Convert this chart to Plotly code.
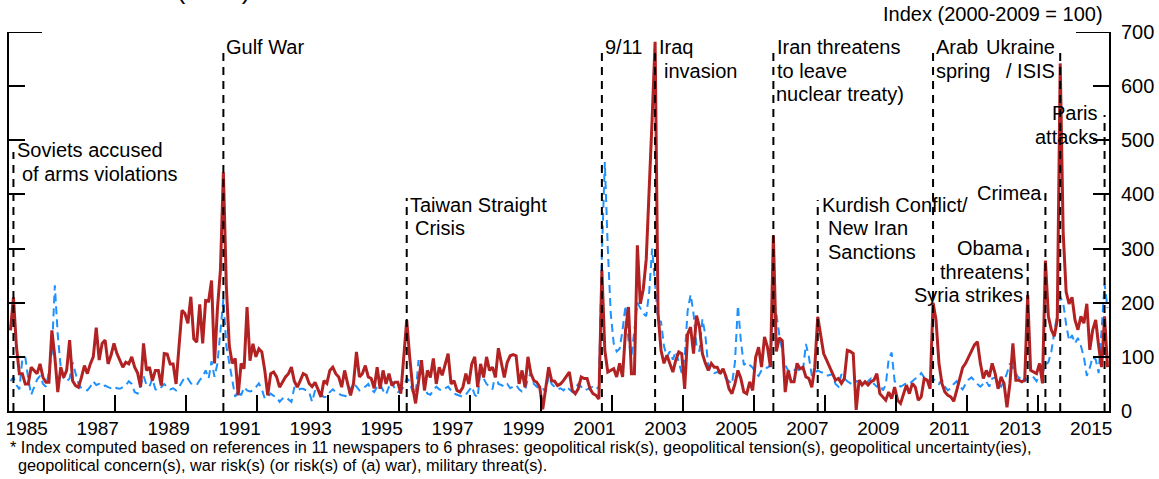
import plotly.graph_objects as go

FONT = "Liberation Sans, Arial, sans-serif"

# Monthly index values, January 1985 - December 2015
first_year = 1985
gpr_main = [
    149, 210, 120, 69, 69, 50, 50, 81, 75, 69, 87, 62,
    53, 53, 149, 100, 35, 81, 62, 75, 131, 56, 47, 44,
    62, 84, 69, 87, 100, 154, 94, 125, 131, 87, 103, 125,
    106, 94, 81, 90, 87, 100, 81, 70, 44, 125, 75, 81,
    56, 75, 75, 47, 106, 105, 87, 87, 50, 120, 186, 180,
    162, 211, 133, 127, 197, 125, 204, 203, 241, 88, 190, 260,
    441, 230, 120, 88, 97, 29, 88, 78, 192, 93, 124, 100,
    115, 109, 75, 29, 69, 72, 63, 44, 53, 63, 69, 81,
    55, 44, 56, 69, 66, 51, 45, 53, 40, 26, 56, 51,
    75, 81, 69, 63, 44, 75, 51, 29, 51, 109, 63, 69,
    84, 63, 60, 42, 81, 41, 75, 50, 69, 47, 53, 53,
    32, 100, 168, 100, 44, 14, 56, 94, 38, 75, 62, 97,
    50, 81, 66, 87, 106, 50, 56, 38, 35, 44, 69, 50,
    87, 100, 44, 87, 62, 100, 75, 81, 62, 116, 87, 62,
    90, 102, 104, 102, 50, 75, 44, 100, 69, 56, 53, 44,
    3, 38, 81, 56, 55, 47, 50, 56, 64, 72, 38, 32,
    41, 63, 60, 60, 41, 32, 29, 22, 260, 112, 72, 75,
    78, 63, 88, 63, 149, 192, 69, 69, 306, 198, 225, 280,
    400, 540, 682, 180, 112, 88, 103, 88, 72, 94, 109, 106,
    41, 142, 155, 106, 176, 155, 106, 88, 75, 88, 81, 81,
    69, 78, 63, 41, 32, 50, 75, 60, 35, 32, 54, 38,
    99, 118, 81, 137, 118, 81, 324, 110, 135, 130, 35, 75,
    54, 54, 88, 78, 81, 63, 60, 44, 81, 174, 143, 106,
    94, 81, 69, 57, 60, 51, 60, 112, 110, 106, 2, 57,
    48, 54, 48, 54, 57, 69, 32, 26, 20, 35, 23, 44,
    20, 14, 32, 48, 32, 51, 44, 20, 26, 60, 57, 41,
    200, 168, 88, 51, 35, 29, 26, 18, 38, 57, 80, 88,
    100, 113, 122, 128, 88, 60, 75, 63, 88, 69, 41, 63,
    51, 7, 51, 125, 57, 57, 54, 57, 214, 75, 72, 69,
    88, 51, 278, 175, 150, 138, 168, 642, 330, 220, 198, 210,
    168, 150, 175, 162, 198, 113, 150, 168, 120, 81, 175, 81,
]
gpr_alt = [
    55, 62, 48, 40, 95, 100, 60, 30, 44, 58, 65, 50,
    45, 72, 108, 232, 140, 80, 60, 55, 60, 90, 70, 50,
    42, 40, 38, 45, 55, 48, 50, 45, 47, 44, 42, 45,
    42, 41, 44, 47, 55, 50, 35, 32, 47, 65, 48, 45,
    60, 40, 38, 45, 50, 44, 40, 42, 38, 44, 55, 63,
    60, 51, 50, 48, 57, 63, 75, 60, 92, 63, 88, 150,
    207, 120, 88, 50, 26, 38, 29, 44, 38, 36, 38, 44,
    51, 40, 23, 26, 32, 28, 26, 17, 23, 26, 22, 17,
    44, 38, 41, 41, 38, 35, 17, 38, 32, 30, 26, 26,
    35, 40, 35, 32, 29, 28, 26, 40, 51, 45, 38, 42,
    45, 50, 40, 35, 45, 50, 38, 30, 45, 55, 40, 35,
    38, 45, 60, 55, 35, 30, 94, 70, 45, 32, 30, 38,
    45, 40, 38, 42, 45, 38, 32, 30, 28, 26, 30, 38,
    45, 30, 25, 81, 60, 50, 45, 40, 70, 50, 48, 45,
    50, 42, 45, 48, 40, 36, 38, 60, 70, 50, 45, 40,
    42, 35, 65, 50, 45, 40, 42, 38, 45, 40, 35, 42,
    50, 45, 38, 40, 42, 45, 40, 45, 290, 460, 300, 180,
    125, 110, 115, 150, 195, 130, 100, 150, 200, 190, 180, 175,
    220, 300, 240, 167, 165, 120, 100, 110, 95, 110, 90, 70,
    100, 185, 215, 180, 120, 110, 170, 140, 80, 75, 70, 72,
    70, 65, 60, 55, 50, 90, 195, 130, 85, 90, 85, 80,
    70, 65, 75, 80, 80, 85, 210, 180, 140, 110, 85, 75,
    70, 75, 80, 72, 75, 124, 100, 65, 70, 75, 72, 70,
    65, 66, 68, 50, 45, 68, 60, 55, 52, 48, 55, 55,
    52, 48, 55, 60, 50, 45, 50, 38, 48, 96, 108, 55,
    50, 45, 48, 52, 50, 55, 60, 62, 70, 62, 60, 55,
    60, 55, 50, 58, 45, 38, 42, 50, 55, 45, 40, 50,
    58, 62, 55, 50, 45, 50, 55, 45, 60, 62, 50, 45,
    55, 70, 88, 80, 70, 60, 65, 55, 60, 58, 62, 55,
    65, 70, 85, 90, 110, 150, 180, 211, 200, 160, 130, 140,
    125, 135, 120, 100, 65, 80, 100, 95, 70, 150, 235, 190,
]

year_labels = [str(y) for y in range(1985, 2016, 2)]
y_ticks = [0, 100, 200, 300, 400, 500, 600, 700]

event_months = ["1985-02", "1991-01", "1996-03", "2001-09", "2003-03", "2006-07",
                "2007-10", "2011-01", "2013-09", "2014-03", "2014-08", "2015-11"]
event_text = [
    ["Soviets accused", "of arms violations"],
    ["Gulf War"],
    ["Taiwan Straight", "Crisis"],
    ["9/11"],
    ["Iraq", "invasion"],
    ["Iran threatens", "to leave", "nuclear treaty)"],
    ["Kurdish Conflict/", "New Iran", "Sanctions"],
    ["Arab", "spring"],
    ["Obama", "threatens", "Syria strikes"],
    ["Crimea"],
    ["Ukraine", "/ ISIS"],
    ["Paris", "attacks"],
]
title_text = "Geopolitical Risk Index (GPR)"

# ---- page geometry (pixels) ----
W, H = 1159, 479
ML, MR, MT, MB = 9, 50, 32, 68
PW, PH = W - ML - MR, H - MT - MB
Y_MAX = 700
TEXT_PAD = 2  # annotation box padding around the text ink


def month_pos(i):
    return first_year + (i + 0.5) / 12.0


def month_str_pos(s):
    y, m = s.split("-")
    return int(y) + (int(m) - 0.5) / 12.0


def paper_x(px):
    return (px - ML) / PW


def paper_y(py):
    return (MT + PH - py) / PH


def value_at(py):
    return (MT + PH - py) / PH * Y_MAX


x = [month_pos(i) for i in range(len(gpr_main))]

# label placement for each event: dashed-line top (px), side, per-line gap to the line (px),
# first line centre (px)
label_style = [
    (152, "left", [4, 9], 150),
    (50, "left", [3], 47),
    (198, "left", [3, 8], 205),
    (50, "left", [3], 47),
    (50, "left", [4, 9], 47),
    (50, "left", [4, 4, 3], 47),
    (200, "left", [4, 10, 10], 205),
    (50, "left", [3, 3], 47),
    (250, "right", [5, 5, 5], 248),
    (193, "right", [3], 193),
    (50, "right", [5, 5], 47),
    (115, "right", [7, 7], 113),
]
LINE_STEP = 23.5

fig = go.Figure()
fig.add_trace(go.Scatter(x=x, y=gpr_alt, mode="lines", xaxis="x", yaxis="y",
                         line=dict(color="#1E90FF", width=2, dash="8px,5px"),
                         hoverinfo="skip", showlegend=False))
fig.add_trace(go.Scatter(x=x, y=gpr_main, mode="lines", xaxis="x2", yaxis="y2",
                         line=dict(color="#B22222", width=3),
                         hoverinfo="skip", showlegend=False))

shapes = []
annotations = []
for when, lines, (top_px, side, gaps, py0) in zip(event_months, event_text, label_style):
    ex = month_str_pos(when)
    shapes.append(dict(type="line", xref="x", yref="y", x0=ex, x1=ex, y0=0,
                       y1=value_at(top_px),
                       line=dict(color="black", width=2, dash="8px,6px")))
    sign = 1 if side == "left" else -1
    for k, (txt, gap) in enumerate(zip(lines, gaps)):
        annotations.append(dict(text=txt, x=ex, xref="x", xanchor=side,
                                xshift=sign * (gap - TEXT_PAD),
                                y=paper_y(py0 + k * LINE_STEP), yref="paper",
                                yanchor="middle", showarrow=False,
                                font=dict(family=FONT, size=20, color="black")))

# longer caps at the top of both vertical axes
shapes.append(dict(type="line", xref="paper", yref="y", x0=0, x1=33 / PW, y0=700, y1=700,
                   line=dict(color="black", width=2)))
shapes.append(dict(type="line", xref="paper", yref="y", x0=1 - 33 / PW, x1=1, y0=700, y1=700,
                   line=dict(color="black", width=2)))

# chart title, placed above the page edge so only its lowest strokes remain on the page
annotations.append(dict(text=title_text, x=paper_x(252), xref="paper", xanchor="right",
                        y=paper_y(7), yref="paper", yanchor="bottom",
                        showarrow=False, font=dict(family=FONT, size=26, color="black")))

annotations.append(dict(text="Index (2000-2009 = 100)", x=paper_x(1103 + TEXT_PAD), xref="paper",
                        xanchor="right", y=paper_y(14), yref="paper", yanchor="middle",
                        showarrow=False, font=dict(family=FONT, size=20, color="black")))

notes = [
    "* Index computed based on references in 11 newspapers to 6 phrases: geopolitical risk(s), "
    "geopolitical tension(s), geopolitical uncertainty(ies),",
    "geopolitical concern(s), war risk(s) (or risk(s) of (a) war), military threat(s).",
]
for txt, px, py in zip(notes, [10, 18], [447, 465]):
    annotations.append(dict(text=txt, x=paper_x(px - TEXT_PAD), xref="paper", xanchor="left",
                            y=paper_y(py), yref="paper", yanchor="middle", showarrow=False,
                            font=dict(family=FONT, size=16.3, color="black")))

y_common = dict(range=[0, Y_MAX], tickmode="array", tickvals=y_ticks, ticks="inside",
                ticklen=16, tickwidth=2, tickcolor="black", showline=True,
                linecolor="black", linewidth=2, showgrid=False, zeroline=False,
                automargin=False)

fig.update_layout(
    width=W, height=H,
    margin=dict(l=ML, r=MR, t=MT, b=MB, pad=0),
    paper_bgcolor="white", plot_bgcolor="white",
    font=dict(family=FONT, color="black"),
    showlegend=False,
    # tick marks sit on year boundaries; labels are centred on the labelled year
    xaxis=dict(range=[1985, 2016], tickmode="array", tickvals=list(range(1986, 2017, 2)),
               ticks="inside", ticklen=16, tickwidth=2, tickcolor="black",
               showticklabels=False, showline=True, linecolor="black", linewidth=2,
               showgrid=False, zeroline=False, automargin=False),
    xaxis2=dict(range=[1985, 2016], overlaying="x", anchor="y2", side="bottom",
                tickmode="array", tickvals=[y + 0.5 for y in range(1985, 2016, 2)],
                ticktext=year_labels, ticks="", showline=False, showgrid=False,
                zeroline=False, automargin=False, ticklabeloverflow="allow",
                tickfont=dict(family=FONT, size=19, color="black"), ticklabelstandoff=4),
    yaxis=dict(side="left", showticklabels=False, anchor="x", **y_common),
    yaxis2=dict(side="right", overlaying="y", anchor="x2", showticklabels=True,
                tickfont=dict(family=FONT, size=20, color="black"),
                ticklabelstandoff=6, **y_common),
    shapes=shapes,
    annotations=annotations,
)

fig.write_html("out.html")
